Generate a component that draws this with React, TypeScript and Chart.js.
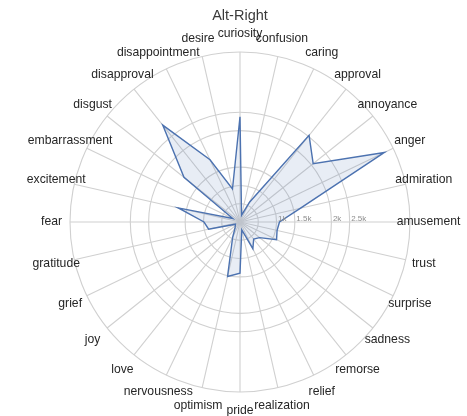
import React, { useEffect, useRef } from "react";
import { Chart, registerables } from "chart.js";

Chart.register(...registerables);

const TITLE = "Alt-Right";

const CATEGORIES = [
  "curiosity", "confusion", "caring", "approval", "annoyance", "anger", "admiration",
  "amusement", "trust", "surprise", "sadness", "remorse", "relief", "realization",
  "pride", "optimism", "nervousness", "love", "joy", "grief", "gratitude",
  "fear", "excitement", "embarrassment", "disgust", "disapproval", "disappointment", "desire",
];

const VALUES = [
  2880, 190, 600, 3030, 2560, 4385, 1700,
  1080, 1040, 1110, 685, 600, 810, 220,
  1400, 1530, 465, 220, 165, 140, 880,
  985, 1730, 220, 1960, 3390, 1890, 925,
];

const TICK_VALUES = [500, 1000, 1500, 2500, 3000];
const TICK_LABELS = ["", "1k", "1.5k", "2k", "2.5k"];
const AXIS_MAX = 4650;

const FONT = '"Liberation Sans", Arial, sans-serif';

export default function App() {
  const ref = useRef<HTMLCanvasElement | null>(null);

  useEffect(() => {
    if (!ref.current) return;

    const labelPlugin = {
      id: "customLabels",
      afterDraw(chart: any) {
        const scale = chart.scales.r;
        const ctx = chart.ctx;
        ctx.save();
        // point labels
        ctx.font = `12.2px ${FONT}`;
        ctx.fillStyle = "#262626";
        ctx.textAlign = "center";
        ctx.textBaseline = "middle";
        CATEGORIES.forEach((c, i) => {
          const p = scale.getPointPosition(i, 188.5);
          ctx.fillText(c, p.x, p.y);
        });
        // tick labels along the horizontal spoke
        ctx.font = `8px ${FONT}`;
        ctx.fillStyle = "#8c8c8c";
        ctx.textAlign = "left";
        ctx.textBaseline = "alphabetic";
        TICK_VALUES.forEach((v, i) => {
          const lbl = TICK_LABELS[i];
          if (!lbl) return;
          const d = scale.getDistanceFromCenterForValue(v);
          ctx.fillText(lbl, scale.xCenter + d + 1.5, scale.yCenter - 1.5);
        });
        // title
        ctx.font = `14.5px ${FONT}`;
        ctx.fillStyle = "#3a3a3a";
        ctx.textAlign = "center";
        ctx.textBaseline = "middle";
        ctx.fillText(TITLE, 240, 15.5);
        ctx.restore();
      },
    };

    const chart = new Chart(ref.current, {
      type: "radar",
      data: {
        labels: CATEGORIES,
        datasets: [
          {
            data: VALUES,
            borderColor: "#4C72B0",
            backgroundColor: "rgba(76,114,176,0.13)",
            borderWidth: 1.4,
            fill: true,
            pointRadius: 0,
            pointHoverRadius: 0,
            tension: 0,
          },
        ],
      },
      options: {
        responsive: false,
        animation: false,
        layout: { padding: 0 },
        plugins: {
          legend: { display: false },
          tooltip: { enabled: false },
          title: { display: false },
        },
        scales: {
          r: {
            min: 0,
            max: AXIS_MAX,
            startAngle: 0,
            grid: { circular: true, color: "#d0d0d0", lineWidth: 1.1 },
            angleLines: { display: true, color: "#d0d0d0", lineWidth: 1.1 },
            pointLabels: { display: false },
            ticks: { display: false },
            afterBuildTicks: (scale: any) => {
              scale.ticks = [0, ...TICK_VALUES, AXIS_MAX].map((v) => ({ value: v }));
            },
            afterFit: (scale: any) => {
              scale.xCenter = 240;
              scale.yCenter = 222;
              scale.drawingArea = 170;
            },
          },
        },
      },
      plugins: [labelPlugin],
    });

    return () => chart.destroy();
  }, []);

  return (
    <div style={{ position: "fixed", left: 0, top: 0, width: 467, height: 416, background: "#fff" }}>
      <canvas ref={ref} width={467} height={416} style={{ display: "block" }} />
    </div>
  );
}
